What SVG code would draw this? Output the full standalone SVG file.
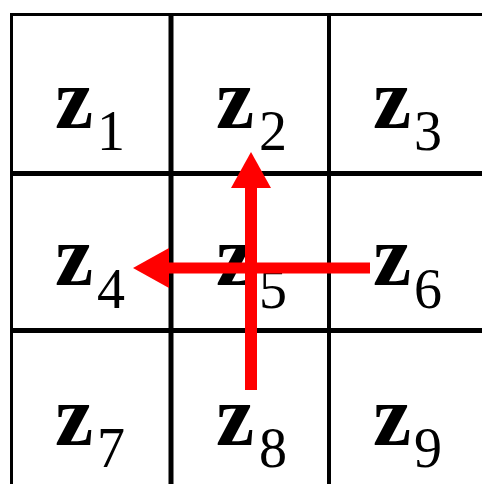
<svg xmlns="http://www.w3.org/2000/svg" width="482" height="484" viewBox="0 0 482 484">
<style>
.g{stroke:#000;fill:none}
.z{font-family:"Liberation Serif",serif;font-weight:bold;font-size:86px;fill:#000}
.s{font-family:"Liberation Serif",serif;font-size:56px;fill:#000}
.a{stroke:#ff0000;fill:none}
</style>
<defs>
<marker id="ah" markerUnits="userSpaceOnUse" markerWidth="40" markerHeight="40" viewBox="0 0 36 40" refX="0" refY="20" orient="auto">
<path d="M0,0 L36,20 L0,40 Z" fill="#ff0000"/>
</marker>
</defs>
<rect width="482" height="484" fill="#fff"/>
<g id="grid">
<line class="g" x1="11.5" y1="13" x2="11.5" y2="484" stroke-width="3"/>
<line class="g" x1="171" y1="13" x2="171" y2="484" stroke-width="5"/>
<line class="g" x1="329" y1="13" x2="329" y2="484" stroke-width="4"/>
<line class="g" x1="10" y1="14.5" x2="482" y2="14.5" stroke-width="3"/>
<line class="g" x1="10" y1="173.5" x2="482" y2="173.5" stroke-width="5"/>
<line class="g" x1="10" y1="330.5" x2="482" y2="330.5" stroke-width="5"/>
</g>
<g id="z1"><text class="z" x="55" y="128">z</text><text class="s" x="97" y="150">1</text></g>
<g id="z2"><text class="z" x="216" y="128">z</text><text class="s" x="259" y="150">2</text></g>
<g id="z3"><text class="z" x="373" y="128">z</text><text class="s" x="414" y="150">3</text></g>
<g id="z4"><text class="z" x="55" y="285">z</text><text class="s" x="97" y="308">4</text></g>
<g id="z5"><text class="z" x="216" y="285">z</text><text class="s" x="259" y="308">5</text></g>
<g id="z6"><text class="z" x="373" y="285">z</text><text class="s" x="414" y="308">6</text></g>
<g id="z7"><text class="z" x="55" y="445">z</text><text class="s" x="97" y="467" fill="#555">7</text></g>
<g id="z8"><text class="z" x="216" y="445">z</text><text class="s" x="259" y="467">8</text></g>
<g id="z9"><text class="z" x="373" y="445">z</text><text class="s" x="414" y="467">9</text></g>
<g id="connectors">
<line class="a" x1="251" y1="390" x2="251" y2="188" stroke-width="12" marker-end="url(#ah)"/>
<line class="a" x1="370" y1="268" x2="169" y2="268" stroke-width="11" marker-end="url(#ah)"/>
</g>
</svg>
